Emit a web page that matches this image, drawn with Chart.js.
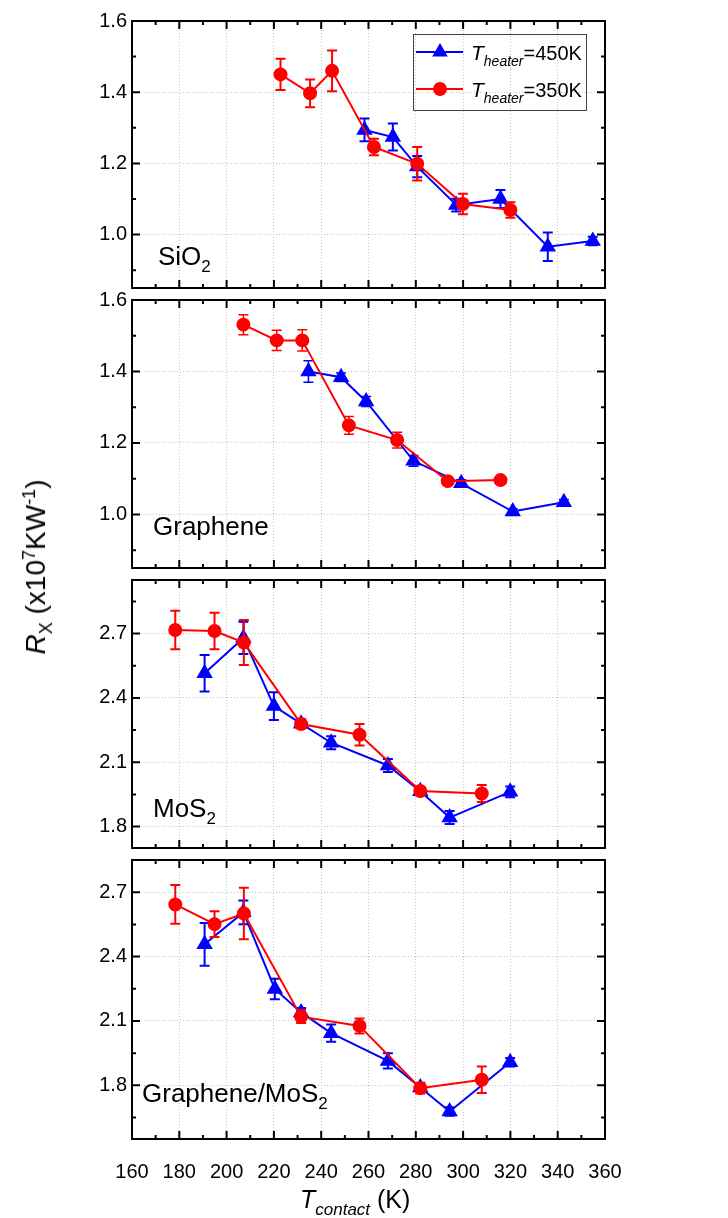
<!DOCTYPE html>
<html>
<head>
<meta charset="utf-8">
<script src="https://cdn.jsdelivr.net/npm/chart.js@4.4.0/dist/chart.umd.min.js"></script>
<style>
  body { margin: 0; background: #fff; }
  #wrap { position: relative; width: 728px; height: 1218px; overflow: hidden; }
  #wrap canvas { position: absolute; left: 0; }
  #ytitle {
    position: absolute; left: 38px; top: 567px;
    transform: translate(-50%, -50%) rotate(-90deg);
    font: 28px "Liberation Sans", Arial, sans-serif; white-space: nowrap; color: #000;
  }
  #ytitle sub, #ytitle sup { font-size: 18px; }
</style>
</head>
<body>
<div id="wrap">
  <canvas id="p1" width="728" height="297" style="top:6px"></canvas>
  <canvas id="p2" width="728" height="298" style="top:285px"></canvas>
  <canvas id="p3" width="728" height="298" style="top:565px"></canvas>
  <canvas id="p4" width="728" height="373" style="top:845px"></canvas>
  <div id="ytitle"><i>R</i><sub>X</sub> (x10<sup>7</sup>KW<sup>-1</sup>)</div>
</div>
<script>
const FONT = '"Liberation Sans", Arial, sans-serif';
const BLUE = '#0000ff';
const RED = '#ff0000';

const xTicks = [160, 180, 200, 220, 240, 260, 280, 300, 320, 340, 360];

// SiO2
const sio2Ticks = [1.0, 1.2, 1.4, 1.6];
const sio2BlueT = [258.3, 270.3, 280.6, 297.1, 315.8, 335.8, 354.8];
const sio2BlueR = [1.294, 1.274, 1.191, 1.083, 1.100, 0.966, 0.982];
const sio2BlueErr = [0.032, 0.038, 0.03, 0.018, 0.025, 0.04, 0.012];
const sio2RedT = [222.8, 235.3, 244.6, 262.3, 280.6, 299.9, 320.0];
const sio2RedR = [1.450, 1.397, 1.460, 1.246, 1.199, 1.086, 1.069];
const sio2RedErr = [0.044, 0.039, 0.057, 0.023, 0.047, 0.029, 0.022];

// Graphene
const grTicks = [1.0, 1.2, 1.4, 1.6];
const grBlueT = [234.6, 248.4, 259.0, 279.0, 299.2, 321.0, 342.6];
const grBlueR = [1.400, 1.384, 1.316, 1.150, 1.087, 1.008, 1.034];
const grBlueErr = [0.03, 0.012, 0.014, 0.015, 0.01, 0.008, 0.008];
const grRedT = [207.1, 221.2, 232.0, 251.7, 272.1, 293.5, 315.8];
const grRedR = [1.531, 1.487, 1.487, 1.249, 1.208, 1.093, 1.096];
const grRedErr = [0.028, 0.028, 0.03, 0.025, 0.022, 0.01, 0.01];

// MoS2
const mosTicks = [1.8, 2.1, 2.4, 2.7];
const mosBlueT = [190.7, 207.1, 220.0, 231.5, 244.2, 268.2, 281.9, 294.3, 319.9];
const mosBlueR = [2.515, 2.680, 2.362, 2.280, 2.191, 2.085, 1.965, 1.842, 1.962];
const mosBlueErr = [0.085, 0.075, 0.065, 0.02, 0.03, 0.03, 0.015, 0.03, 0.025];
const mosRedT = [178.3, 194.9, 207.3, 231.5, 256.2, 281.9, 307.9];
const mosRedR = [2.717, 2.712, 2.658, 2.278, 2.228, 1.966, 1.954];
const mosRedErr = [0.09, 0.085, 0.105, 0.02, 0.05, 0.015, 0.04];

// Graphene/MoS2
const hetTicks = [1.8, 2.1, 2.4, 2.7];
const hetBlueT = [190.7, 207.1, 220.4, 231.5, 244.2, 268.2, 281.9, 294.3, 319.9];
const hetBlueR = [2.457, 2.606, 2.249, 2.140, 2.043, 1.914, 1.790, 1.678, 1.908];
const hetBlueErr = [0.1, 0.055, 0.048, 0.02, 0.04, 0.035, 0.02, 0.02, 0.02];
const hetRedT = [178.3, 194.9, 207.3, 231.5, 256.2, 281.9, 307.9];
const hetRedR = [2.643, 2.551, 2.601, 2.120, 2.077, 1.787, 1.826];
const hetRedErr = [0.09, 0.06, 0.12, 0.03, 0.035, 0.025, 0.062];

const zip = (xs, ys) => xs.map((x, i) => ({ x: x, y: ys[i] }));

function drawRuns(ctx, x, y, runs) {
  ctx.textAlign = 'left';
  ctx.textBaseline = 'alphabetic';
  runs.forEach(r => {
    ctx.font = `${r.italic ? 'italic ' : ''}${r.size}px ${FONT}`;
    ctx.fillText(r.text, x, y + (r.dy || 0));
    x += ctx.measureText(r.text).width;
  });
}

function minorsOf(major) {
  const step = major[1] - major[0];
  const out = [];
  for (let v = major[0] - step; v <= major[major.length - 1] + step + 1e-9; v += step / 2) {
    out.push(+v.toFixed(4));
  }
  return out;
}

// error bars right after each dataset, so red ones sit over blue ones
const errorBars = {
  id: 'errorBars',
  afterDatasetDraw(chart, args) {
    const ds = chart.data.datasets[args.index];
    if (!ds.errors) return;
    const ctx = chart.ctx;
    const y = chart.scales.y;
    ctx.save();
    ctx.strokeStyle = ds.borderColor;
    ctx.lineWidth = ds.errWidth || 2;
    args.meta.data.forEach((pt, i) => {
      const e = ds.errors[i];
      const v = ds.data[i].y;
      const top = y.getPixelForValue(v + e);
      const bot = y.getPixelForValue(v - e);
      ctx.beginPath();
      ctx.moveTo(pt.x, top); ctx.lineTo(pt.x, bot);
      ctx.moveTo(pt.x - 5, top); ctx.lineTo(pt.x + 5, top);
      ctx.moveTo(pt.x - 5, bot); ctx.lineTo(pt.x + 5, bot);
      ctx.stroke();
    });
    ctx.restore();
  }
};

// box, inward ticks on all four sides, panel label, legend
const decor = {
  id: 'decor',
  afterDraw(chart, args, opts) {
    const ctx = chart.ctx;
    const a = chart.chartArea;
    const xs = chart.scales.x, ys = chart.scales.y;
    ctx.save();
    ctx.strokeStyle = '#000';
    ctx.lineWidth = 2;
    ctx.beginPath();
    minorsOf(xTicks).forEach(v => {
      if (v < xs.min || v > xs.max) return;
      const px = xs.getPixelForValue(v);
      const len = xTicks.includes(v) ? 8 : 4;
      ctx.moveTo(px, a.bottom); ctx.lineTo(px, a.bottom - len);
      ctx.moveTo(px, a.top); ctx.lineTo(px, a.top + len);
    });
    minorsOf(opts.yTicks).forEach(v => {
      if (v < ys.min - 1e-6 || v > ys.max + 1e-6) return;
      const py = ys.getPixelForValue(v);
      const len = opts.yTicks.some(t => Math.abs(t - v) < 1e-6) ? 8 : 4;
      ctx.moveTo(a.left, py); ctx.lineTo(a.left + len, py);
      ctx.moveTo(a.right, py); ctx.lineTo(a.right - len, py);
    });
    ctx.stroke();
    ctx.strokeRect(a.left, a.top, a.right - a.left, a.bottom - a.top);

    ctx.fillStyle = '#000';
    drawRuns(ctx, a.left + opts.labelAt[0], a.bottom - opts.labelAt[1], opts.label);

    if (opts.legend) {
      const lx = a.left + 281, ly = a.top + 13;
      ctx.lineWidth = 1;
      ctx.strokeStyle = '#444';
      ctx.strokeRect(lx + 0.5, ly + 0.5, 173, 76);
      const rows = [
        { color: BLUE, style: 'triangle', r: 7, text: '=450K' },
        { color: RED, style: 'circle', r: 6, text: '=350K' }
      ];
      rows.forEach((row, i) => {
        const cy = ly + 18 + i * 37;
        ctx.strokeStyle = row.color;
        ctx.fillStyle = row.color;
        ctx.lineWidth = 2;
        ctx.beginPath();
        ctx.moveTo(lx + 3, cy); ctx.lineTo(lx + 50, cy);
        ctx.stroke();
        Chart.helpers.drawPoint(ctx, { pointStyle: row.style, radius: row.r, borderWidth: 1 }, lx + 27, cy);
        ctx.fillStyle = '#000';
        drawRuns(ctx, lx + 58, cy + 8, [
          { text: 'T', size: 21, italic: true },
          { text: 'heater', size: 14, italic: true, dy: 6 },
          { text: row.text, size: 20 }
        ]);
      });
    }

    if (opts.xTitle) {
      drawRuns(ctx, 300, 363, [
        { text: 'T', size: 25, italic: true },
        { text: 'contact', size: 17, italic: true, dy: 7 },
        { text: ' (K)', size: 25 }
      ]);
    }
    ctx.restore();
  }
};

function makePanel(id, p) {
  const series = (label, t, r, err, color, style, radius, order) => ({
    label: label,
    data: zip(t, r),
    errors: err,
    errWidth: p.errWidth,
    borderColor: color,
    backgroundColor: color,
    pointBorderColor: color,
    pointBackgroundColor: color,
    pointStyle: style,
    pointRadius: radius,
    borderWidth: 2,
    tension: 0,
    order: order
  });
  return new Chart(document.getElementById(id), {
    type: 'line',
    data: {
      datasets: [
        series('Theater=350K', p.redT, p.redR, p.redErr, RED, 'circle', 6, 1),
        series('Theater=450K', p.blueT, p.blueR, p.blueErr, BLUE, 'triangle', 7.5, 2)
      ]
    },
    options: {
      responsive: false,
      animation: false,
      events: [],
      layout: { padding: { left: 0, right: 123, top: 15, bottom: 0 } },
      plugins: {
        legend: { display: false },
        tooltip: { enabled: false },
        decor: { yTicks: p.yTicks, label: p.label, labelAt: p.labelAt, legend: p.legend, xTitle: p.bottom }
      },
      scales: {
        x: {
          type: 'linear', min: 160, max: 360,
          afterBuildTicks: s => { s.ticks = xTicks.map(v => ({ value: v })); },
          afterFit: s => { s.height = p.bottom ? 79 : 15; s.paddingLeft = 0; s.paddingRight = 0; },
          grid: { color: '#c4c4c4', lineWidth: 1, drawTicks: false },
          border: { display: false, dash: [1, 2] },
          ticks: { display: !!p.bottom, color: '#000', padding: 21, font: { size: 20, family: FONT }, maxRotation: 0 }
        },
        y: {
          min: p.yMin, max: p.yMax,
          afterBuildTicks: s => { s.ticks = p.yTicks.map(v => ({ value: v })); },
          afterFit: s => { s.width = 132; s.paddingTop = 0; s.paddingBottom = 0; },
          grid: { color: '#c4c4c4', lineWidth: 1, drawTicks: false },
          border: { display: false, dash: [1, 2] },
          ticks: { color: '#000', padding: 5, font: { size: 20, family: FONT }, callback: v => v.toFixed(1) }
        }
      }
    },
    plugins: [errorBars, decor]
  });
}

makePanel('p1', {
  yMin: 0.85, yMax: 1.6, yTicks: sio2Ticks,
  blueT: sio2BlueT, blueR: sio2BlueR, blueErr: sio2BlueErr,
  redT: sio2RedT, redR: sio2RedR, redErr: sio2RedErr,
  label: [{ text: 'SiO', size: 26 }, { text: '2', size: 17, dy: 7 }], labelAt: [26, 23],
  legend: true
});
makePanel('p2', {
  yMin: 0.85, yMax: 1.6, yTicks: grTicks, errWidth: 1.5,
  blueT: grBlueT, blueR: grBlueR, blueErr: grBlueErr,
  redT: grRedT, redR: grRedR, redErr: grRedErr,
  label: [{ text: 'Graphene', size: 26 }], labelAt: [21, 33]
});
makePanel('p3', {
  yMin: 1.7, yMax: 2.95, yTicks: mosTicks,
  blueT: mosBlueT, blueR: mosBlueR, blueErr: mosBlueErr,
  redT: mosRedT, redR: mosRedR, redErr: mosRedErr,
  label: [{ text: 'MoS', size: 26 }, { text: '2', size: 17, dy: 7 }], labelAt: [21, 31]
});
makePanel('p4', {
  yMin: 1.55, yMax: 2.85, yTicks: hetTicks,
  blueT: hetBlueT, blueR: hetBlueR, blueErr: hetBlueErr,
  redT: hetRedT, redR: hetRedR, redErr: hetRedErr,
  label: [{ text: 'Graphene/MoS', size: 26 }, { text: '2', size: 17, dy: 7 }], labelAt: [10, 37],
  bottom: true
});
</script>
</body>
</html>
